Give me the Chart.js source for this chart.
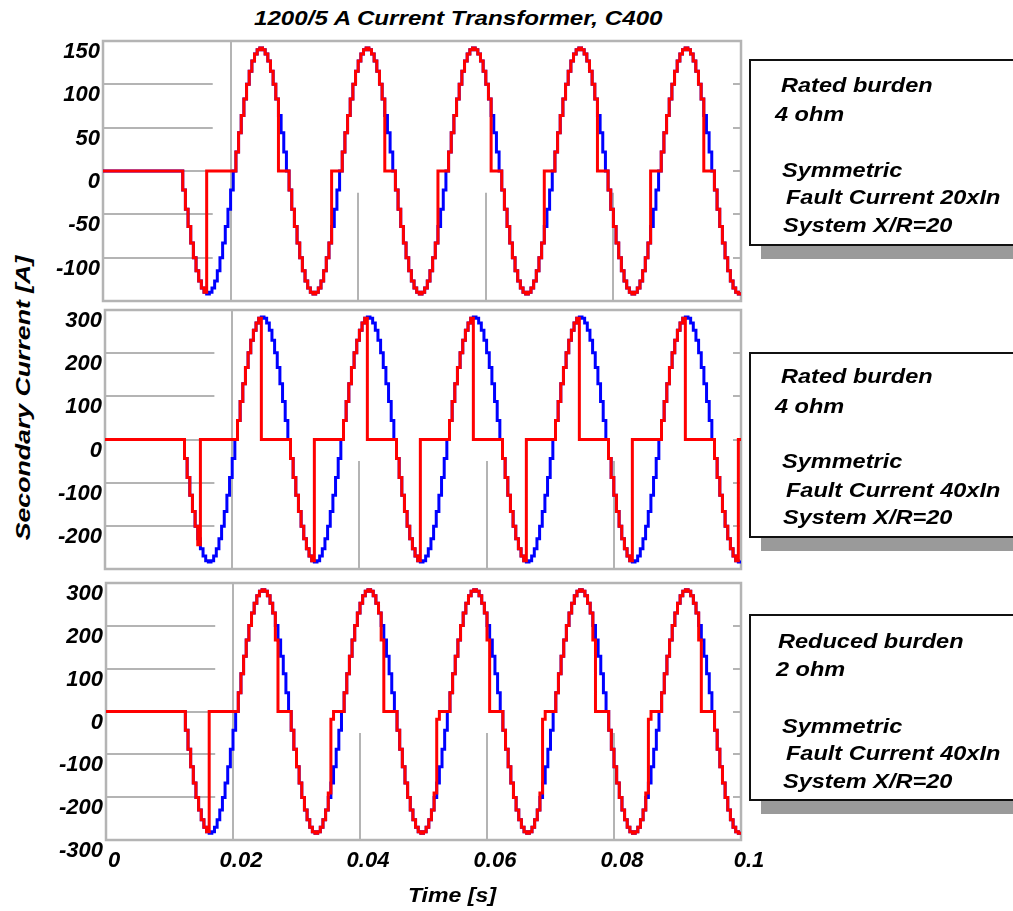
<!DOCTYPE html>
<html>
<head>
<meta charset="utf-8">
<title>1200/5 A Current Transformer, C400</title>
<script src="https://cdn.jsdelivr.net/npm/chart.js@4.4.1/dist/chart.umd.min.js"></script>
<style>
  body { margin: 0; width: 1013px; height: 911px; overflow: hidden; position: relative; background: #fff; }
  canvas { position: absolute; left: 0; }
  .lbl { position: absolute; font: italic bold 21px "Liberation Sans", Arial, sans-serif; line-height: 21px; white-space: nowrap; color: #000; transform-origin: 0 0; }
  .box { position: absolute; left: 749px; width: 300px; box-sizing: border-box; border: 2px solid #111; background: #fff; box-shadow: 12px 13px 0 #9a9a9a; }
  .txt { transform: scaleX(1.12); }
</style>
</head>
<body>
<div class="lbl" style="left:254px;top:7px;transform:scaleX(1.15)">1200/5 A Current Transformer, C400</div>
<div class="lbl" style="left:22px;top:398px;transform-origin:50% 50%;transform:translate(-50%,-50%) rotate(-90deg) scaleX(1.27)">Secondary Current [A]</div>

<canvas id="panel1" width="780" height="290" style="top:30px"></canvas>
<canvas id="panel2" width="780" height="290" style="top:300px"></canvas>
<canvas id="panel3" width="780" height="330" style="top:570px"></canvas>

<div class="box" style="top:59px;height:187px"></div>
<div class="lbl txt" style="left:781px;top:74px">Rated burden</div>
<div class="lbl txt" style="left:775px;top:103px">4 ohm</div>
<div class="lbl txt" style="left:782px;top:159px">Symmetric</div>
<div class="lbl txt" style="left:786px;top:186px">Fault Current 20xIn</div>
<div class="lbl txt" style="left:783px;top:214px">System X/R=20</div>

<div class="box" style="top:352px;height:186px"></div>
<div class="lbl txt" style="left:781px;top:365px">Rated burden</div>
<div class="lbl txt" style="left:775px;top:395px">4 ohm</div>
<div class="lbl txt" style="left:782px;top:450px">Symmetric</div>
<div class="lbl txt" style="left:786px;top:479px">Fault Current 40xIn</div>
<div class="lbl txt" style="left:783px;top:506px">System X/R=20</div>

<div class="box" style="top:614px;height:187px"></div>
<div class="lbl txt" style="left:778px;top:630px">Reduced burden</div>
<div class="lbl txt" style="left:776px;top:658px">2 ohm</div>
<div class="lbl txt" style="left:782px;top:715px">Symmetric</div>
<div class="lbl txt" style="left:786px;top:742px">Fault Current 40xIn</div>
<div class="lbl txt" style="left:783px;top:770px">System X/R=20</div>

<div class="lbl" style="left:452px;top:884px;transform:translateX(-50%) scaleX(1.1);transform-origin:50% 0">Time [s]</div>

<script>
// samples per second (40 per 60 Hz cycle), first sample at t = 0
const SAMPLE_RATE = 2400;

// tick values / labels
const timeTicks = [0, 0.02, 0.04, 0.06, 0.08, 0.1];
const timeLabels = ['0', '0.02', '0.04', '0.06', '0.08', '0.1'];
const ticks150 = [150, 100, 50, 0, -50, -100];
const ticks300 = [300, 200, 100, 0, -100, -200];
const ticks300full = [300, 200, 100, 0, -100, -200, -300];

// primary current referred to secondary, 20xIn (blue, top panel)
const primary20 = [
  0,0,0,0,0,0,0,0,0,0, 0,0,0,0,0,0,0,0,0,0, 0,0,0,0,0,0,0,0,0,
  0,-22,-44,-64,-83,-100,-115,-127,-135,-140,-142,-140,-135,-127,-115,-100,-83,-64,-44,-22,
  0,22,44,64,83,100,115,127,135,140,142,140,135,127,115,100,83,64,44,22,
  0,-22,-44,-64,-83,-100,-115,-127,-135,-140,-142,-140,-135,-127,-115,-100,-83,-64,-44,-22,
  0,22,44,64,83,100,115,127,135,140,142,140,135,127,115,100,83,64,44,22,
  0,-22,-44,-64,-83,-100,-115,-127,-135,-140,-142,-140,-135,-127,-115,-100,-83,-64,-44,-22,
  0,22,44,64,83,100,115,127,135,140,142,140,135,127,115,100,83,64,44,22,
  0,-22,-44,-64,-83,-100,-115,-127,-135,-140,-142,-140,-135,-127,-115,-100,-83,-64,-44,-22,
  0,22,44,64,83,100,115,127,135,140,142,140,135,127,115,100,83,64,44,22,
  0,-22,-44,-64,-83,-100,-115,-127,-135,-140,-142,-140,-135,-127,-115,-100,-83,-64,-44,-22,
  0,22,44,64,83,100,115,127,135,140,142,140,135,127,115,100,83,64,44,22,
  0,-22,-44,-64,-83,-100,-115,-127,-135,-140,-142,-140
];

// CT secondary current, rated burden 4 ohm, 20xIn (red, top panel)
const secondary20r4 = [
  0,0,0,0,0,0,0,0,0,0, 0,0,0,0,0,0,0,0,0,0, 0,0,0,0,0,0,0,0,0,
  0,-22,-44,-64,-83,-100,-115,-127,-135,-140,0,0,0,0,0,0,0,0,0,0,
  0,22,44,64,83,100,115,127,135,140,142,140,135,127,115,100,83,0,0,0,
  0,-22,-44,-64,-83,-100,-115,-127,-135,-140,-142,-140,-135,-127,-115,-100,-83,0,0,0,
  0,22,44,64,83,100,115,127,135,140,142,140,135,127,115,100,83,0,0,0,
  0,-22,-44,-64,-83,-100,-115,-127,-135,-140,-142,-140,-135,-127,-115,-100,-83,0,0,0,
  0,22,44,64,83,100,115,127,135,140,142,140,135,127,115,100,83,0,0,0,
  0,-22,-44,-64,-83,-100,-115,-127,-135,-140,-142,-140,-135,-127,-115,-100,-83,0,0,0,
  0,22,44,64,83,100,115,127,135,140,142,140,135,127,115,100,83,0,0,0,
  0,-22,-44,-64,-83,-100,-115,-127,-135,-140,-142,-140,-135,-127,-115,-100,-83,0,0,0,
  0,22,44,64,83,100,115,127,135,140,142,140,135,127,115,100,83,0,0,0,
  0,-22,-44,-64,-83,-100,-115,-127,-135,-140,-142,-140
];

// primary current referred to secondary, 40xIn (blue, middle and bottom panels)
const primary40 = [
  0,0,0,0,0,0,0,0,0,0, 0,0,0,0,0,0,0,0,0,0, 0,0,0,0,0,0,0,0,0,
  0,-44,-88,-129,-167,-201,-230,-253,-270,-281,-284,-281,-270,-253,-230,-201,-167,-129,-88,-44,
  0,44,88,129,167,201,230,253,270,281,284,281,270,253,230,201,167,129,88,44,
  0,-44,-88,-129,-167,-201,-230,-253,-270,-281,-284,-281,-270,-253,-230,-201,-167,-129,-88,-44,
  0,44,88,129,167,201,230,253,270,281,284,281,270,253,230,201,167,129,88,44,
  0,-44,-88,-129,-167,-201,-230,-253,-270,-281,-284,-281,-270,-253,-230,-201,-167,-129,-88,-44,
  0,44,88,129,167,201,230,253,270,281,284,281,270,253,230,201,167,129,88,44,
  0,-44,-88,-129,-167,-201,-230,-253,-270,-281,-284,-281,-270,-253,-230,-201,-167,-129,-88,-44,
  0,44,88,129,167,201,230,253,270,281,284,281,270,253,230,201,167,129,88,44,
  0,-44,-88,-129,-167,-201,-230,-253,-270,-281,-284,-281,-270,-253,-230,-201,-167,-129,-88,-44,
  0,44,88,129,167,201,230,253,270,281,284,281,270,253,230,201,167,129,88,44,
  0,-44,-88,-129,-167,-201,-230,-253,-270,-281,-284,-281
];

// CT secondary current, rated burden 4 ohm, 40xIn (red, middle panel)
const secondary40r4 = [
  0,0,0,0,0,0,0,0,0,0, 0,0,0,0,0,0,0,0,0,0, 0,0,0,0,0,0,0,0,0,
  0,-44,-88,-129,-167,-201,-244,0,0,0,0,0,0,0,0,0,0,0,0,0,
  0,44,88,129,167,201,230,253,270,281,0,0,0,0,0,0,0,0,0,0,
  0,-44,-88,-129,-167,-201,-230,-253,-270,-281,0,0,0,0,0,0,0,0,0,0,
  0,44,88,129,167,201,230,253,270,281,0,0,0,0,0,0,0,0,0,0,
  0,-44,-88,-129,-167,-201,-230,-253,-270,-281,0,0,0,0,0,0,0,0,0,0,
  0,44,88,129,167,201,230,253,270,281,0,0,0,0,0,0,0,0,0,0,
  0,-44,-88,-129,-167,-201,-230,-253,-270,-281,0,0,0,0,0,0,0,0,0,0,
  0,44,88,129,167,201,230,253,270,281,0,0,0,0,0,0,0,0,0,0,
  0,-44,-88,-129,-167,-201,-230,-253,-270,-281,0,0,0,0,0,0,0,0,0,0,
  0,44,88,129,167,201,230,253,270,281,0,0,0,0,0,0,0,0,0,0,
  0,-44,-88,-129,-167,-201,-230,-253,-270,-281,0,0
];

// CT secondary current, reduced burden 2 ohm, 40xIn (red, bottom panel)
const secondary40r2 = [
  0,0,0,0,0,0,0,0,0,0, 0,0,0,0,0,0,0,0,0,0, 0,0,0,0,0,0,0,0,0,
  0,-44,-88,-129,-167,-201,-230,-253,-270,-281,0,0,0,0,0,0,0,0,0,0,
  0,44,88,129,167,201,230,253,270,281,284,281,270,253,230,167,0,0,0,0,
  0,-44,-88,-129,-167,-201,-230,-253,-270,-281,-284,-281,-270,-253,-230,-190,-18,0,0,0,
  0,44,88,129,167,201,230,253,270,281,284,281,270,253,230,167,0,0,0,0,
  0,-44,-88,-129,-167,-201,-230,-253,-270,-281,-284,-281,-270,-253,-230,-190,-18,0,0,0,
  0,44,88,129,167,201,230,253,270,281,284,281,270,253,230,167,0,0,0,0,
  0,-44,-88,-129,-167,-201,-230,-253,-270,-281,-284,-281,-270,-253,-230,-190,-18,0,0,0,
  0,44,88,129,167,201,230,253,270,281,284,281,270,253,230,167,0,0,0,0,
  0,-44,-88,-129,-167,-201,-230,-253,-270,-281,-284,-281,-270,-253,-230,-190,-18,0,0,0,
  0,44,88,129,167,201,230,253,270,281,284,281,270,253,230,167,0,0,0,0,
  0,-44,-88,-129,-167,-201,-230,-253,-270,-281,-284,-281
];

const TICK_FONT = { family: '"Liberation Sans", Arial, sans-serif', size: 22, style: 'italic', weight: 'bold' };

// grey frame, short grid stubs and the partial grid lines of the original plot
const frame = {
  id: 'frame',
  beforeDatasetsDraw(chart, args, opts) {
    const { ctx, chartArea: a, scales: { x, y } } = chart;
    const seg = (x1, y1, x2, y2) => { ctx.beginPath(); ctx.moveTo(x1, y1); ctx.lineTo(x2, y2); ctx.stroke(); };
    ctx.save();
    ctx.strokeStyle = '#b4b4b4';
    ctx.lineWidth = 2;
    const gridEnd = x.getPixelForValue(opts.gridEnd);
    y.ticks.forEach(t => {
      if (t.value <= y.min || t.value >= y.max) return;
      const py = Math.round(y.getPixelForValue(t.value));
      seg(a.left, py, gridEnd, py);
      seg(a.right - 8, py, a.right, py);
    });
    timeTicks.forEach((v, i) => {
      if (i === 0 || i === timeTicks.length - 1) return;
      const px = Math.round(x.getPixelForValue(v));
      seg(px, i === 1 ? a.top : y.getPixelForValue(opts.gridDrop), px, a.bottom);
    });
    ctx.lineWidth = 2.5;
    ctx.strokeRect(a.left, a.top, a.right - a.left, a.bottom - a.top);
    ctx.restore();
  }
};

const toPoints = vals => vals.map((v, i) => ({ x: i / SAMPLE_RATE, y: v }));

function makeChart(id, primary, secondary, yMin, yMax, yTicks, axisWidth, padding, showTime, gridDrop) {
  return new Chart(document.getElementById(id), {
    type: 'line',
    data: {
      datasets: [
        { label: 'CT secondary current', data: toPoints(secondary), borderColor: '#ff0000', borderWidth: 3, pointRadius: 0, stepped: true },
        { label: 'Primary current', data: toPoints(primary), borderColor: '#0000ff', borderWidth: 3, pointRadius: 0, stepped: true }
      ]
    },
    options: {
      responsive: false,
      animation: false,
      events: [],
      layout: { padding: padding },
      plugins: {
        legend: { display: false },
        tooltip: { enabled: false },
        frame: { gridEnd: 0.0172, gridDrop: gridDrop }
      },
      scales: {
        x: {
          type: 'linear',
          min: 0,
          max: 0.1,
          display: showTime,
          grid: { display: false, drawTicks: false },
          border: { display: false },
          afterBuildTicks: s => { s.ticks = timeTicks.map(v => ({ value: v })); },
          afterFit: s => {
            if (showTime) s.height = 50;
            s.paddingLeft = 0;
            s.paddingRight = 0;
          },
          ticks: {
            color: '#000',
            font: TICK_FONT,
            padding: 8,
            labelOffset: 8,
            autoSkip: false,
            maxRotation: 0,
            callback: (v, i) => timeLabels[i]
          }
        },
        y: {
          min: yMin,
          max: yMax,
          grid: { display: false, drawTicks: false },
          border: { display: false },
          afterBuildTicks: s => { s.ticks = yTicks.map(v => ({ value: v })); },
          afterFit: s => {
            s.width = axisWidth;
            s.paddingTop = 0;
            s.paddingBottom = 0;
          },
          ticks: {
            color: '#000',
            font: TICK_FONT,
            padding: 3,
            labelOffset: 11,
            callback: v => String(v)
          }
        }
      }
    },
    plugins: [frame]
  });
}

makeChart('panel1', primary20, secondary20r4, -150, 150, ticks150, 103, { left: 0, right: 39, top: 11, bottom: 19 }, false, -25);
makeChart('panel2', primary40, secondary40r4, -300, 300, ticks300, 105, { left: 0, right: 39, top: 10, bottom: 21 }, false, -50);
makeChart('panel3', primary40, secondary40r2, -300, 300, ticks300full, 106, { left: 0, right: 39, top: 13, bottom: 10 }, true, -50);
</script>
</body>
</html>
